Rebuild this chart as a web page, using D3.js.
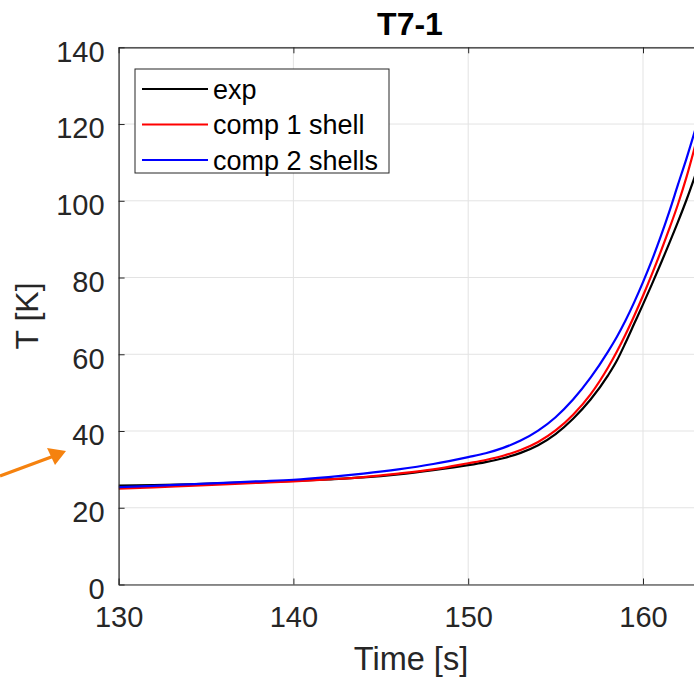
<!DOCTYPE html>
<html>
<head>
<meta charset="utf-8">
<script src="https://cdn.jsdelivr.net/npm/d3@7"></script>
<style>
    html, body { margin: 0; padding: 0; background: #fff; overflow: hidden; }
    svg { display: block; font-family: "Liberation Sans", Arial, Helvetica, sans-serif; }
</style>
</head>
<body>
<svg id="chart" width="694" height="677"></svg>
<script>
// data
const time = [130, 132, 134, 136, 138, 140, 142, 144, 146, 148, 150, 151, 152, 153, 154, 155, 156, 157, 158,
    158.5, 159, 159.5, 160, 160.5, 161, 161.5, 162, 162.5, 163, 163.5];
const expT = [25.8, 25.9, 26.1, 26.4, 26.7, 27.0, 27.4, 27.9, 28.7, 29.8, 31.1, 31.9, 32.9, 34.3, 36.3, 39.2, 43.2, 48.2, 54.5,
    58.3, 63.0, 68.0, 73.0, 78.15, 83.45, 88.9, 94.5, 100.4, 106.8, 113.5];
const comp1T = [25.0, 25.3, 25.7, 26.1, 26.5, 26.9, 27.4, 28.0, 28.9, 30.0, 31.6, 32.45, 33.55, 35.05, 37.15, 40.15, 44.25, 49.55, 56.55,
    60.65, 65.15, 70.05, 75.25, 80.75, 86.55, 92.65, 99.1, 106.35, 114.6, 123];
const comp2T = [25.4, 25.7, 26.1, 26.5, 26.9, 27.3, 28.0, 28.9, 30.0, 31.4, 33.2, 34.2, 35.6, 37.5, 40.1, 43.6, 48.2, 53.9, 60.7,
    64.5, 68.8, 73.6, 78.8, 84.4, 90.5, 97.1, 104.2, 111.2, 118.7, 126.5];
const seriesNames = ["exp", "comp 1 shell", "comp 2 shells"];
const seriesColors = ["#000000", "#ff0000", "#0000ff"];
const xTicks = [130, 140, 150, 160];
const yTicks = [0, 20, 40, 60, 80, 100, 120, 140];

const margin = {top: 47.3, left: 118.6},
    width = 40 * 17.48,
    height = 537.2;

const svg = d3.select("#chart");
const axisColor = "#262626";

const g = svg.append("g")
    .attr("transform", `translate(${margin.left},${margin.top})`);

const x = d3.scaleLinear().domain([130, 170]).range([0, width]);
const y = d3.scaleLinear().domain([0, 140]).range([height, 0]);

// grid
g.append("g").selectAll("line")
    .data(xTicks)
    .join("line")
    .attr("x1", d => x(d)).attr("x2", d => x(d))
    .attr("y1", 0).attr("y2", height)
    .attr("stroke", "#e3e3e3").attr("stroke-width", 1);
g.append("g").selectAll("line")
    .data(yTicks)
    .join("line")
    .attr("x1", 0).attr("x2", width)
    .attr("y1", d => y(d)).attr("y2", d => y(d))
    .attr("stroke", "#e3e3e3").attr("stroke-width", 1);

// data lines
g.append("clipPath").attr("id", "clip")
    .append("rect").attr("width", width).attr("height", height);

const series = [expT, comp1T, comp2T];
const line = d3.line()
    .x((d, i) => x(time[i]))
    .y(d => y(d))
    .curve(d3.curveMonotoneX);

series.forEach((s, k) => {
    g.append("path")
        .datum(s)
        .attr("clip-path", "url(#clip)")
        .attr("fill", "none")
        .attr("stroke", seriesColors[k])
        .attr("stroke-width", 2.2)
        .attr("d", line);
});

// axes (ticks inside, box on)
const tickLen = 6;
const xAxis = d3.axisBottom(x).tickValues(xTicks).tickSizeInner(-tickLen).tickSizeOuter(0).tickPadding(14);
const xAxisTop = d3.axisTop(x).tickValues(xTicks).tickSizeInner(-tickLen).tickSizeOuter(0).tickFormat("");
const yAxis = d3.axisLeft(y).tickValues(yTicks).tickSizeInner(-tickLen).tickSizeOuter(0).tickPadding(14);

const gx = g.append("g")
    .attr("transform", `translate(0, ${height})`)
    .call(xAxis);
const gxt = g.append("g").call(xAxisTop);
const gy = g.append("g").call(yAxis);

[gx, gxt, gy].forEach(a => {
    a.attr("font-size", 29).attr("font-family", null);
    a.select(".domain").attr("stroke", axisColor).attr("stroke-width", 1.2);
    a.selectAll(".tick line").attr("stroke", axisColor).attr("stroke-width", 1);
    a.selectAll(".tick text")
        .attr("fill", axisColor)
        .style("font-size", "29px");
});
gx.selectAll(".tick text").attr("dy", "0.98em");
gy.selectAll(".tick text").attr("dy", "0.48em");

// labels
g.append("text")
    .attr("x", 411 - margin.left)
    .attr("y", 670 - margin.top)
    .attr("text-anchor", "middle")
    .attr("fill", axisColor)
    .style("font-size", "32.5px")
    .text("Time [s]");

g.append("text")
    .attr("transform", "rotate(-90)")
    .attr("x", -height / 2)
    .attr("y", 38 - margin.left)
    .attr("text-anchor", "middle")
    .attr("fill", axisColor)
    .style("font-size", "32px")
    .text("T [K]");

svg.append("text")
    .attr("x", 410)
    .attr("y", 35)
    .attr("text-anchor", "middle")
    .attr("fill", "#000")
    .style("font-size", "32px")
    .style("font-weight", "bold")
    .text("T7-1");

// legend
const legend = svg.append("g").attr("transform", "translate(135, 69)");
legend.append("rect")
    .attr("width", 254).attr("height", 104)
    .attr("fill", "#fff")
    .attr("stroke", axisColor).attr("stroke-width", 1);
seriesNames.forEach((name, k) => {
    const ly = 20 + k * 35.5;
    legend.append("line")
        .attr("x1", 7).attr("x2", 73)
        .attr("y1", ly).attr("y2", ly)
        .attr("stroke", seriesColors[k]).attr("stroke-width", 2.2);
    legend.append("text")
        .attr("x", 78).attr("y", ly + 9.5)
        .attr("fill", "#000")
        .style("font-size", "27px")
        .text(name);
});

// orange annotation arrow
svg.append("line")
    .attr("x1", 0).attr("y1", 476)
    .attr("x2", 54).attr("y2", 456)
    .attr("stroke", "#f5820f").attr("stroke-width", 3.2);
svg.append("path")
    .attr("d", "M66,451 L47,448 L55,465 Z")
    .attr("fill", "#f5820f");
</script>
</body>
</html>
